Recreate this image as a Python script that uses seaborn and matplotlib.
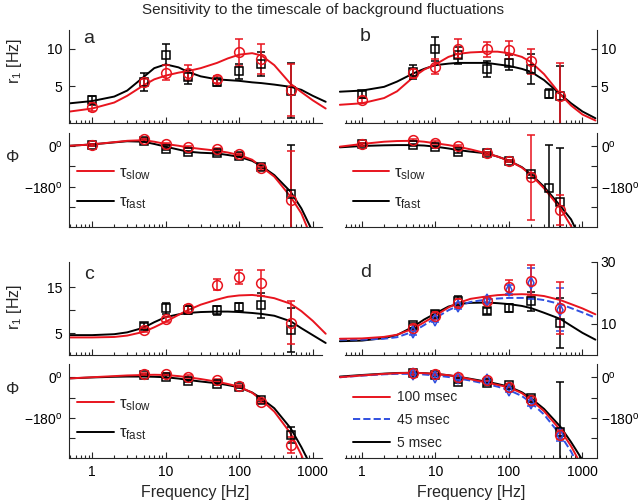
import matplotlib
matplotlib.use('Agg')
import matplotlib.pyplot as plt
import seaborn as sns
from matplotlib.transforms import Bbox, TransformedBbox
from matplotlib.ticker import NullFormatter

sns.set_style('ticks')
plt.rcParams['font.family'] = ['Liberation Sans', 'DejaVu Sans']
plt.rcParams['mathtext.fontset'] = 'custom'
plt.rcParams['mathtext.rm'] = 'Liberation Sans'
plt.rcParams['mathtext.it'] = 'Liberation Sans:italic'

RED = '#e8141e'
BLUE = '#3050e0'
BLACK = '#000000'

# ---------- fitted curves ----------
fit_freq = [0.5, 1, 2, 3, 5, 7, 10, 15, 20, 30, 50, 70, 100, 150, 200, 300, 500, 700, 1000, 1500]

fit_r1_a_fast = [2.7, 3.0, 3.6, 4.4, 6.2, 7.4, 7.9, 7.5, 6.9, 6.3, 5.9, 5.8, 5.7, 5.5, 5.4, 5.2, 4.9, 4.5, 3.7, 2.9]
fit_r1_a_slow = [1.6, 2.0, 2.8, 3.7, 5.1, 5.9, 6.4, 6.8, 7.0, 7.4, 8.1, 8.7, 9.2, 9.4, 9.1, 7.8, 5.3, 4.2, 3.1, 2.0]
fit_r1_b_fast = [4.25, 4.4, 4.9, 5.6, 6.7, 7.3, 7.8, 8.0, 8.1, 8.1, 8.1, 7.9, 7.7, 7.3, 6.9, 5.8, 3.9, 2.7, 1.6, 0.7]
fit_r1_b_slow = [2.5, 2.7, 3.4, 4.3, 6.2, 7.2, 7.9, 8.9, 9.3, 9.5, 9.6, 9.6, 9.4, 8.9, 8.2, 6.6, 3.9, 2.4, 1.2, 0.4]
fit_r1_c_fast = [4.6, 4.6, 4.8, 5.2, 6.2, 7.4, 8.5, 9.1, 9.4, 9.6, 9.7, 9.7, 9.6, 9.4, 9.2, 8.8, 7.6, 6.1, 4.6, 2.9]
fit_r1_c_slow = [4.1, 4.1, 4.2, 4.5, 5.3, 6.3, 7.5, 9.0, 10.0, 11.2, 12.3, 12.9, 13.2, 13.3, 13.1, 12.6, 11.4, 9.8, 7.7, 4.9]
fit_r1_d_5 = [4.3, 4.5, 5.3, 6.3, 9.0, 11.3, 13.3, 15.5, 16.3, 16.7, 16.8, 16.6, 16.3, 15.7, 15.0, 13.5, 11.5, 9.3, 7.0, 4.8]
fit_r1_d_45 = [4.8, 4.8, 5.1, 5.6, 7.4, 9.5, 11.8, 14.3, 15.7, 17.0, 17.8, 18.1, 18.3, 18.3, 18.2, 17.6, 16.3, 15.0, 13.6, 11.9]
fit_r1_d_100 = [5.1, 5.2, 5.7, 6.4, 8.4, 10.4, 12.6, 15.2, 16.6, 18.0, 18.8, 19.2, 19.4, 19.5, 19.4, 18.9, 17.6, 16.3, 14.9, 13.0]

fit_phi_a_slow = [2, 8, 18, 24, 27, 20, 10, 2, -5, -12, -20, -28, -39, -60, -91, -135, -224, -298, -420, -600]
fit_phi_a_fast = [2, 8, 17, 22, 20, 10, -2, -15, -24, -29, -32, -39, -47, -65, -88, -128, -202, -276, -380, -560]
fit_phi_b_slow = [-2, 10, 20, 23, 24, 20, 13, 5, -2, -14, -32, -46, -64, -95, -128, -187, -276, -355, -470, -660]
fit_phi_b_fast = [-5, 1, 4, 5, 5, 3, -2, -10, -17, -24, -32, -46, -64, -93, -125, -180, -265, -325, -430, -620]
fit_phi_c_slow = [-4, 1, 6, 9, 11, 12, 11, 6, 1, -7, -19, -29, -41, -68, -100, -152, -249, -345, -480, -680]
fit_phi_c_fast = [-4, 0, 3, 4, 4, 3, 1, -5, -11, -18, -26, -34, -44, -67, -93, -137, -226, -310, -410, -600]
fit_phi_d_5 = [4, 11, 17, 20, 21, 19, 16, 10, 4, -6, -19, -29, -41, -66, -93, -140, -219, -288, -368, -520]
fit_phi_d_45 = [1, 8, 14, 16, 16, 13, 9, 2, -4, -14, -29, -41, -56, -83, -112, -165, -256, -330, -430, -600]
fit_phi_d_100 = [1, 9, 16, 19, 21, 19, 16, 10, 4, -8, -23, -33, -44, -70, -100, -150, -234, -306, -400, -560]

# ---------- measured points ----------
freq = [1, 5, 10, 20, 50, 100, 200, 500]
freq_b_fast = [1, 5, 10, 20, 50, 100, 200, 350, 500]
freq_cd = [5, 10, 20, 50, 100, 200, 500]

r1_a_slow = [2.2, 5.5, 6.8, 6.8, 5.9, 9.5, 8.6, 4.5]
r1_a_slow_err = [0.5, 0.5, 1.0, 1.0, 0.5, 1.8, 2.0, 3.5]
r1_a_fast = [3.1, 5.5, 9.2, 6.2, 5.5, 7.0, 7.9, 4.4]
r1_a_fast_err = [0.6, 1.2, 1.4, 0.9, 0.5, 1.0, 1.6, 3.7]
phi_a_slow = [5, 31, 10, -2, -12, -36, -98, -239]
phi_a_slow_err = [5, 5, 5, 5, 5, 5, 6, 218]
phi_a_fast = [5, 25, -14, -27, -32, -42, -91, -212]
phi_a_fast_err = [5, 5, 5, 5, 5, 5, 6, 217]

r1_b_slow = [3.1, 6.7, 7.6, 10.0, 9.9, 9.8, 8.3, 3.7]
r1_b_slow_err = [0.4, 0.6, 1.0, 1.3, 1.0, 1.2, 1.7, 4.4]
r1_b_fast = [3.9, 6.9, 10.0, 9.1, 7.3, 8.1, 7.3, 4.0, 3.7]
r1_b_fast_err = [0.5, 0.9, 1.6, 1.1, 1.1, 1.0, 2.0, 0.6, 4.0]
phi_b_slow = [8, 27, 16, 1, -32, -64, -138, -283]
phi_b_slow_err = [5, 5, 5, 5, 5, 5, 188, 65]
phi_b_fast = [8, 5, -2, -24, -32, -64, -123, -184, -246]
phi_b_fast_err = [5, 5, 5, 5, 5, 5, 6, 190, 237]

r1_c_slow = [5.7, 8.0, 10.4, 15.5, 17.1, 15.9, 7.3]
r1_c_slow_err = [0.5, 0.6, 0.8, 1.2, 1.5, 2.9, 4.7]
r1_c_fast = [6.6, 10.4, 10.1, 10.0, 10.7, 11.1, 5.7]
r1_c_fast_err = [0.6, 1.2, 0.9, 1.0, 0.8, 2.7, 4.7]
phi_c_slow = [16, 16, 4, -11, -38, -108, -301]
phi_c_slow_err = [5, 5, 5, 5, 5, 6, 37]
phi_c_fast = [11, 4, -16, -29, -41, -100, -256]
phi_c_fast_err = [5, 5, 5, 5, 5, 6, 35]

r1_d_100 = [8.6, 12.6, 16.7, 17.2, 21.7, 23.9, 15.0]
r1_d_100_err = [0.8, 1.0, 1.2, 1.0, 2.5, 5.0, 8.4]
r1_d_45 = [7.2, 11.3, 15.8, 17.5, 21.0, 23.1, 14.5]
r1_d_45_err = [0.8, 0.8, 1.0, 0.8, 1.5, 5.0, 7.0]
r1_d_5 = [9.4, 13.2, 17.2, 14.0, 15.0, 17.2, 10.2]
r1_d_5_err = [0.7, 1.0, 1.6, 1.0, 1.2, 3.0, 8.0]
phi_d_100 = [21, 16, 4, -10, -41, -100, -256]
phi_d_100_err = [8, 6, 6, 6, 8, 10, 20]
phi_d_45 = [14, 4, -4, -11, -56, -115, -256]
phi_d_45_err = [8, 6, 6, 6, 8, 10, 25]
phi_d_5 = [19, 11, -19, -26, -33, -93, -241]
phi_d_5_err = [6, 6, 6, 6, 6, 10, 222]

deg_ticks = [0, -90, -180, -270]
deg_labels = ['0$^\\mathregular{o}$', '', '\u2212180$^\\mathregular{o}$', '']
freq_ticks = [1, 10, 100, 1000]
freq_labels = ['1', '10', '100', '1000']
tau_labels = ['\u03c4$_\\mathregular{slow}$', '\u03c4$_\\mathregular{fast}$']
msec_labels = ['100 msec', '45 msec', '5 msec']


def curve(ax, y, color, ls='-'):
    sns.lineplot(x=fit_freq, y=y, ax=ax, color=color, lw=1.4, linestyle=ls,
                 legend=False, estimator=None, sort=False)
    line = ax.lines[-1]
    # curves run a little past the left/right ends of the axes, as in the original
    line.set_clip_box(TransformedBbox(Bbox([[-0.025, 0], [1.02, 1]]), ax.transAxes))
    return line


def points(ax, f, y, e, color, marker, ms):
    ax.errorbar(f, y, yerr=e, fmt=marker, mfc='none', mec=color, ms=ms, mew=1.1,
                ecolor=color, elinewidth=1.1, capsize=2.8, capthick=1.1)


def style(ax, xlim, right, bottom_row):
    ax.set_xscale('log')
    ax.set_xlim(*xlim)
    ax.set_xticks(freq_ticks, freq_labels if bottom_row else ['', '', '', ''])
    ax.xaxis.set_minor_formatter(NullFormatter())
    ax.tick_params(which='both', direction='in', width=0.8, colors='0.15',
                   labelcolor='black', labelsize=10)
    ax.tick_params(which='major', length=4)
    ax.tick_params(which='minor', length=2)
    ax.tick_params(axis='x', pad=5)
    ax.spines['top'].set_visible(False)
    if right:
        ax.spines['left'].set_visible(False)
        ax.yaxis.tick_right()
        ax.tick_params(axis='y', pad=3)
    else:
        ax.spines['right'].set_visible(False)
        ax.tick_params(axis='y', pad=5)
    for s in ax.spines.values():
        s.set_color('0.15')
        s.set_linewidth(0.8)
    ax.set_xlabel('')
    ax.set_ylabel('')


fig = plt.figure(figsize=(6.4, 5.04), dpi=100)

col_x = [(0.1083, 0.3944), (0.539, 0.3933)]
col_xlim = [(0.49, 1325), (0.587, 1560)]
row_r = [(0.7550, 0.1855), (0.2966, 0.1841)]
row_p = [(0.5490, 0.1877), (0.0907, 0.1871)]

axes = {}
for key, (row, col) in {'a': (0, 0), 'b': (0, 1), 'c': (1, 0), 'd': (1, 1)}.items():
    ax_r = fig.add_axes([col_x[col][0], row_r[row][0], col_x[col][1], row_r[row][1]])
    ax_p = fig.add_axes([col_x[col][0], row_p[row][0], col_x[col][1], row_p[row][1]])
    axes[key] = (ax_r, ax_p, row, col)

# panel a
ax_r, ax_p, _, _ = axes['a']
curve(ax_r, fit_r1_a_fast, BLACK)
curve(ax_r, fit_r1_a_slow, RED)
points(ax_r, freq, r1_a_fast, r1_a_fast_err, BLACK, 's', 5.8)
points(ax_r, freq, r1_a_slow, r1_a_slow_err, RED, 'o', 7)
lf = curve(ax_p, fit_phi_a_fast, BLACK)
ls_ = curve(ax_p, fit_phi_a_slow, RED)
points(ax_p, freq, phi_a_fast, phi_a_fast_err, BLACK, 's', 5.8)
points(ax_p, freq, phi_a_slow, phi_a_slow_err, RED, 'o', 7)
leg_a = ([ls_, lf], tau_labels)

# panel b
ax_r, ax_p, _, _ = axes['b']
curve(ax_r, fit_r1_b_fast, BLACK)
curve(ax_r, fit_r1_b_slow, RED)
points(ax_r, freq_b_fast, r1_b_fast, r1_b_fast_err, BLACK, 's', 5.8)
points(ax_r, freq, r1_b_slow, r1_b_slow_err, RED, 'o', 7)
lf = curve(ax_p, fit_phi_b_fast, BLACK)
ls_ = curve(ax_p, fit_phi_b_slow, RED)
points(ax_p, freq_b_fast, phi_b_fast, phi_b_fast_err, BLACK, 's', 5.8)
points(ax_p, freq, phi_b_slow, phi_b_slow_err, RED, 'o', 7)
leg_b = ([ls_, lf], tau_labels)

# panel c
ax_r, ax_p, _, _ = axes['c']
curve(ax_r, fit_r1_c_fast, BLACK)
curve(ax_r, fit_r1_c_slow, RED)
points(ax_r, freq_cd, r1_c_fast, r1_c_fast_err, BLACK, 's', 5.8)
points(ax_r, freq_cd, r1_c_slow, r1_c_slow_err, RED, 'o', 7)
lf = curve(ax_p, fit_phi_c_fast, BLACK)
ls_ = curve(ax_p, fit_phi_c_slow, RED)
points(ax_p, freq_cd, phi_c_fast, phi_c_fast_err, BLACK, 's', 5.8)
points(ax_p, freq_cd, phi_c_slow, phi_c_slow_err, RED, 'o', 7)
leg_c = ([ls_, lf], tau_labels)

# panel d
ax_r, ax_p, _, _ = axes['d']
curve(ax_r, fit_r1_d_5, BLACK)
curve(ax_r, fit_r1_d_45, BLUE, '--')
curve(ax_r, fit_r1_d_100, RED)
points(ax_r, freq_cd, r1_d_5, r1_d_5_err, BLACK, 's', 5.8)
points(ax_r, freq_cd, r1_d_45, r1_d_45_err, BLUE, 'd', 5.8)
points(ax_r, freq_cd, r1_d_100, r1_d_100_err, RED, 'o', 7)
l5 = curve(ax_p, fit_phi_d_5, BLACK)
l45 = curve(ax_p, fit_phi_d_45, BLUE, '--')
l100 = curve(ax_p, fit_phi_d_100, RED)
points(ax_p, freq_cd, phi_d_5, phi_d_5_err, BLACK, 's', 5.8)
points(ax_p, freq_cd, phi_d_45, phi_d_45_err, BLUE, 'd', 5.8)
points(ax_p, freq_cd, phi_d_100, phi_d_100_err, RED, 'o', 7)
leg_d = ([l100, l45, l5], msec_labels)

r1_lims = {'a': (0, 12.5), 'b': (0, 12.5), 'c': (0.4, 20.5), 'd': (0, 30)}
r1_ticks = {'a': ([5, 10], ['5', '10']), 'b': ([5, 10], ['5', '10']),
            'c': ([5, 10, 15], ['5', '', '15']), 'd': ([10, 20, 30], ['10', '', '30'])}
legends = {'a': leg_a, 'b': leg_b, 'c': leg_c, 'd': leg_d}
letter_pos = {'a': (0.076, 0.914), 'b': (0.079, 0.93), 'c': (0.078, 0.857), 'd': (0.081, 0.889)}

for key, (ax_r, ax_p, row, col) in axes.items():
    style(ax_r, col_xlim[col], col == 1, False)
    style(ax_p, col_xlim[col], col == 1, row == 1)
    ax_r.set_ylim(*r1_lims[key])
    ax_r.set_yticks(*r1_ticks[key])
    ax_p.set_ylim(-360, 60)
    ax_p.set_yticks(deg_ticks, deg_labels)
    ax_r.text(*letter_pos[key], key, transform=ax_r.transAxes, fontsize=14,
              ha='center', va='center')
    handles, labels = legends[key]
    if key == 'd':
        ax_p.legend(handles, labels, loc='upper left', bbox_to_anchor=(0.03, 0.72),
                    frameon=False, fontsize=10, handlelength=2.7, handletextpad=0.5,
                    labelspacing=0.62, borderaxespad=0, borderpad=0)
    else:
        ax_p.legend(handles, labels, loc='upper left', bbox_to_anchor=(0.03, 0.66),
                    frameon=False, fontsize=12, handlelength=2.2, handletextpad=0.3,
                    labelspacing=0.78, borderaxespad=0, borderpad=0)
    if row == 1:
        ax_p.set_xlabel('Frequency [Hz]', fontsize=11.5, labelpad=4)

fig.text(0.505, 0.980, 'Sensitivity to the timescale of background fluctuations',
         ha='center', va='center', fontsize=11)
for yc in [61, 307]:
    fig.text(0.022, 1 - yc / 504, 'r$_\\mathregular{1}$ [Hz]', rotation=90,
             ha='center', va='center', fontsize=11.5)
for yc in [158, 390]:
    fig.text(0.020, 1 - yc / 504, '\u03a6', ha='center', va='center', fontsize=12)

fig.savefig('out.png', dpi=100)
